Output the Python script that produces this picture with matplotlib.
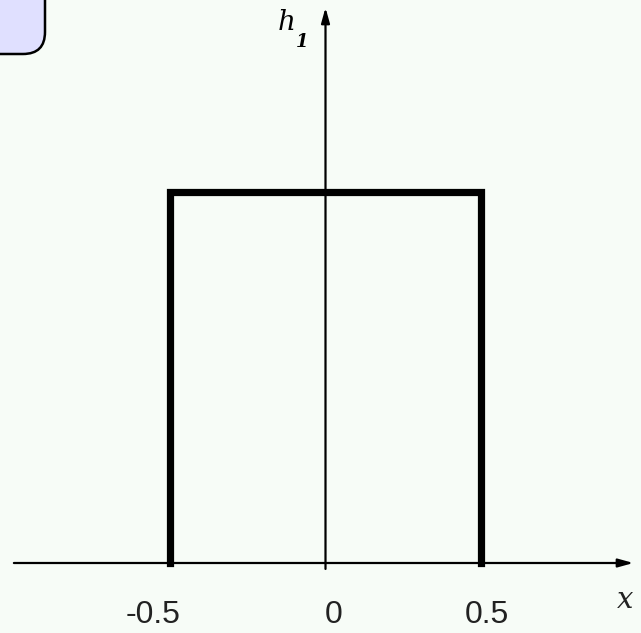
import matplotlib
matplotlib.use("Agg")
import matplotlib.pyplot as plt
import matplotlib.transforms as mtransforms
from matplotlib.patches import FancyBboxPatch

# rectangular pulse h1(x)
pulse_x = [-0.5, -0.5, 0.5, 0.5]
pulse_h = [0, 1, 1, 0]

tick_values = [-0.5, 0, 0.5]
tick_labels = ["-0.5", "0", "0.5"]
tick_offsets_px = [-17, 8, 6]

bg = "#F7FCF7"

fig = plt.figure(figsize=(6.41, 6.33), dpi=100, facecolor=bg)
ax = fig.add_axes([0, 0, 1, 1])
ax.set_facecolor(bg)

# pixel scale: 311 px per x unit, 371 px per h unit, origin at (325.5, 563)
ax.set_xlim(-325.5 / 311, (641 - 325.5) / 311)
ax.set_ylim(-(633 - 563) / 371, 563 / 371)
ax.axis("off")

# axes with arrows
ax.annotate("", xy=(0.99, 0), xytext=(-1.002, 0),
            arrowprops=dict(arrowstyle="-|>,head_length=0.9,head_width=0.25",
                            color="black", lw=1.6, shrinkA=0, shrinkB=0))
ax.annotate("", xy=(0, 1.497), xytext=(0, -0.016),
            arrowprops=dict(arrowstyle="-|>,head_length=0.9,head_width=0.25",
                            color="black", lw=1.6, shrinkA=0, shrinkB=0))

ax.plot(pulse_x, pulse_h, color="black", lw=5.2, solid_joinstyle="miter",
        solid_capstyle="projecting")

fonts = ["Liberation Sans", "DejaVu Sans"]
for v, lab, off in zip(tick_values, tick_labels, tick_offsets_px):
    tr = mtransforms.offset_copy(ax.transData, fig=fig, x=off, y=0, units="dots")
    ax.text(v, -0.14, lab, transform=tr, ha="center", va="center",
            fontsize=23, family=fonts, color="#222222")

ax.text((625 - 325.5) / 311, -(600 - 563) / 371, "x", ha="center", va="center",
        fontsize=21, family="DejaVu Serif", style="italic", color="#222222")
ax.text((287 - 325.5) / 311, (563 - 22) / 371, "h", ha="center", va="center",
        fontsize=20, family="DejaVu Serif", style="italic", color="black")
ax.text((302 - 325.5) / 311, (563 - 42) / 371, "1", ha="center", va="center",
        fontsize=13, family="DejaVu Serif", style="italic", weight="bold",
        color="black")

# rounded box in the top-left corner
box = FancyBboxPatch((-40, 633 - 54), 85, 120,
                     boxstyle="round,pad=0,rounding_size=22",
                     transform=mtransforms.IdentityTransform(),
                     facecolor="#E0E0FF", edgecolor="black", lw=1.8)
fig.patches.append(box)

fig.savefig("out.png", dpi=100, facecolor=bg)
